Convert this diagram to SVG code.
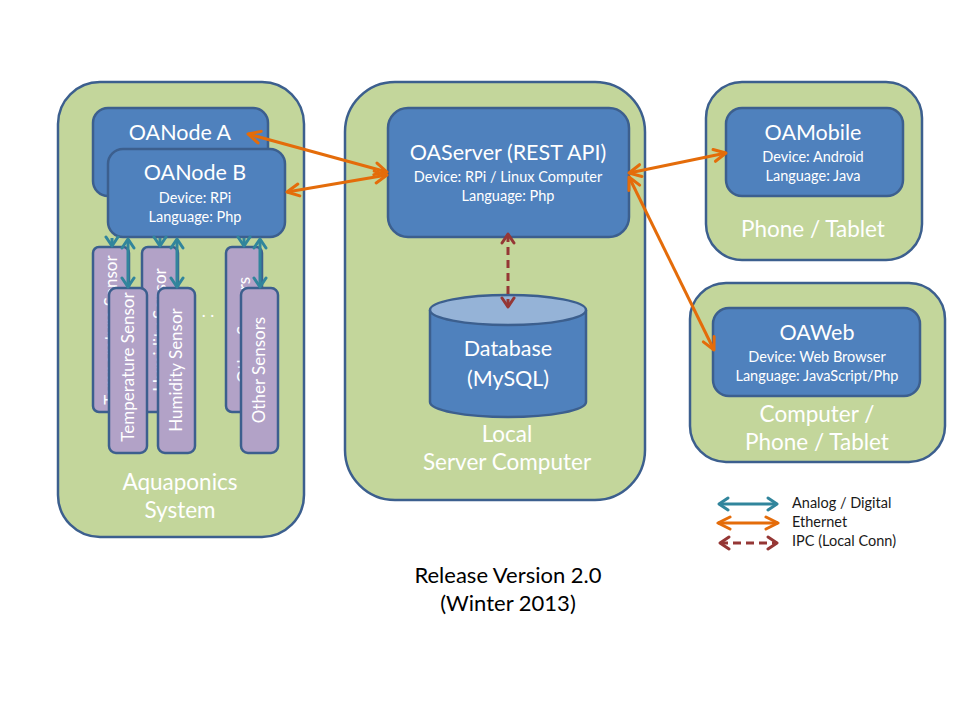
<svg xmlns="http://www.w3.org/2000/svg" width="960" height="720" viewBox="0 0 960 720">
  <style>
    text { font-family: Lato, "Open Sans", "Liberation Sans", sans-serif; }
    .zone { fill: #c3d69b; stroke: #3c5f8e; stroke-width: 2.5; }
    .node { fill: #4f81bd; stroke: #3c5f8e; stroke-width: 2.5; }
    .sensor { fill: #b2a2c7; stroke: #3c5f8e; stroke-width: 2.5; }
    .title { fill: #ffffff; font-size: 21.5px; text-anchor: middle; }
    .sub { fill: #ffffff; font-size: 14.5px; text-anchor: middle; }
    .zlabel { fill: #ffffff; font-size: 22.5px; text-anchor: middle; }
    .stext { fill: #ffffff; font-size: 17px; text-anchor: middle; }
    .eth { stroke: #e46c0a; stroke-width: 3; fill: none; }
    .sig { stroke: #31859c; stroke-width: 3; fill: none; }
    .ipc { stroke: #953735; stroke-width: 3; fill: none; stroke-dasharray: 8 5; }
    .legend { fill: #1a1a1a; font-size: 14.5px; }
    .caption { fill: #000000; font-size: 22px; text-anchor: middle; }
  </style>
  <defs>
    <marker id="headEth" viewBox="-14 -8 16 16" refX="0" refY="0" markerWidth="16" markerHeight="16" markerUnits="userSpaceOnUse" orient="auto-start-reverse">
      <path d="M-12,-6 L0,0 L-12,6" fill="none" stroke="#e46c0a" stroke-width="3" stroke-linecap="round" stroke-linejoin="round"/>
    </marker>
    <marker id="headSig" viewBox="-12 -8 14 16" refX="0" refY="0" markerWidth="14" markerHeight="16" markerUnits="userSpaceOnUse" orient="auto-start-reverse">
      <path d="M-9,-6 L0,0 L-9,6" fill="none" stroke="#31859c" stroke-width="3" stroke-linecap="round" stroke-linejoin="round"/>
    </marker>
    <marker id="headIpc" viewBox="-12 -8 14 16" refX="0" refY="0" markerWidth="14" markerHeight="16" markerUnits="userSpaceOnUse" orient="auto-start-reverse">
      <path d="M-9,-6 L0,0 L-9,6" fill="none" stroke="#953735" stroke-width="3" stroke-linecap="round" stroke-linejoin="round"/>
    </marker>
  </defs>

  <!-- deployment zones -->
  <g id="zone-aquaponics">
    <rect class="zone" x="58" y="82" width="246" height="455" rx="42"/>
    <text class="zlabel" x="180" y="490">Aquaponics</text>
    <text class="zlabel" x="180" y="518">System</text>
  </g>
  <g id="zone-server">
    <rect class="zone" x="345" y="82" width="300" height="418" rx="50"/>
    <text class="zlabel" x="507" y="442">Local</text>
    <text class="zlabel" x="507" y="470">Server Computer</text>
  </g>
  <g id="zone-mobile">
    <rect class="zone" x="706" y="82" width="216" height="178" rx="36"/>
    <text class="zlabel" x="813" y="237">Phone / Tablet</text>
  </g>
  <g id="zone-web">
    <rect class="zone" x="690" y="283" width="255" height="179" rx="36"/>
    <text class="zlabel" x="817" y="422">Computer /</text>
    <text class="zlabel" x="817" y="450">Phone / Tablet</text>
  </g>

  <!-- node A and its sensors (behind node B) -->
  <g id="oanode-a">
    <rect class="node" x="93" y="108" width="175" height="88" rx="15"/>
    <text class="title" x="180" y="140">OANode A</text>
  </g>
  <g id="sensors-a">
    <rect class="sensor" x="93" y="247" width="36" height="165" rx="6"/>
    <text class="stext" transform="translate(117 330) rotate(-90)">Temperature Sensor</text>
    <rect class="sensor" x="142" y="247" width="36" height="165" rx="6"/>
    <text class="stext" transform="translate(166 330) rotate(-90)">Humidity Sensor</text>
    <rect class="sensor" x="226" y="247" width="36" height="165" rx="6"/>
    <text class="stext" transform="translate(250 330) rotate(-90)">Other Sensors</text>
  </g>

  <!-- node B and its sensors -->
  <g id="oanode-b">
    <rect class="node" x="108" y="149" width="177" height="88" rx="15"/>
    <text class="title" x="195" y="180">OANode B</text>
    <text class="sub" x="195" y="203">Device: RPi</text>
    <text class="sub" x="195" y="222">Language: Php</text>
  </g>
  <g id="sensors-b">
    <rect class="sensor" x="109" y="288" width="38" height="165" rx="7"/>
    <text class="stext" transform="translate(134 367) rotate(-90)">Temperature Sensor</text>
    <rect class="sensor" x="158" y="288" width="37" height="165" rx="7"/>
    <text class="stext" transform="translate(182 370) rotate(-90)">Humidity Sensor</text>
    <rect class="sensor" x="241" y="288" width="37" height="165" rx="7"/>
    <text class="stext" transform="translate(265 370) rotate(-90)">Other Sensors</text>
    <text class="stext" x="208" y="317">. .</text>
  </g>

  <g id="oaserver">
    <rect class="node" x="388" y="108" width="241" height="129" rx="20"/>
    <text class="title" x="508" y="160">OAServer (REST API)</text>
    <text class="sub" x="508" y="182">Device: RPi / Linux Computer</text>
    <text class="sub" x="508" y="201">Language: Php</text>
  </g>

  <g id="database">
    <path class="node" d="M430,310 L430,402 A78,15 0 0 0 586,402 L586,310"/>
    <ellipse cx="508" cy="310" rx="78" ry="15" fill="#95b3d7" stroke="#3c5f8e" stroke-width="2.5"/>
    <text class="title" x="508" y="356">Database</text>
    <text class="title" x="508" y="386">(MySQL)</text>
  </g>

  <g id="oamobile">
    <rect class="node" x="726" y="108" width="177" height="88" rx="16"/>
    <text class="title" x="813" y="140">OAMobile</text>
    <text class="sub" x="813" y="162">Device: Android</text>
    <text class="sub" x="813" y="181">Language: Java</text>
  </g>

  <g id="oaweb">
    <rect class="node" x="713" y="308" width="207" height="88" rx="16"/>
    <text class="title" x="817" y="340">OAWeb</text>
    <text class="sub" x="817" y="362">Device: Web Browser</text>
    <text class="sub" x="817" y="381">Language: JavaScript/Php</text>
  </g>

  <!-- connectors -->
  <g id="connectors">
    <!-- node A to its sensors: only the lower heads show below node B -->
    <line class="sig" x1="112" y1="238" x2="112" y2="246" marker-end="url(#headSig)"/>
    <line class="sig" x1="160" y1="238" x2="160" y2="246" marker-end="url(#headSig)"/>
    <line class="sig" x1="244" y1="238" x2="244" y2="246" marker-end="url(#headSig)"/>
    <!-- node B to its sensors -->
    <line class="sig" x1="128" y1="239" x2="128" y2="287" marker-start="url(#headSig)" marker-end="url(#headSig)"/>
    <line class="sig" x1="177" y1="239" x2="177" y2="287" marker-start="url(#headSig)" marker-end="url(#headSig)"/>
    <line class="sig" x1="260" y1="239" x2="260" y2="287" marker-start="url(#headSig)" marker-end="url(#headSig)"/>
    <!-- ethernet links -->
    <line class="eth" x1="248" y1="134" x2="387" y2="172" marker-start="url(#headEth)" marker-end="url(#headEth)"/>
    <line class="eth" x1="287" y1="192" x2="387" y2="175" marker-start="url(#headEth)" marker-end="url(#headEth)"/>
    <line class="eth" x1="629" y1="173" x2="726" y2="153" marker-start="url(#headEth)" marker-end="url(#headEth)"/>
    <line class="eth" x1="629" y1="177" x2="714" y2="350" marker-start="url(#headEth)" marker-end="url(#headEth)"/>
    <!-- server to database -->
    <line class="ipc" x1="508" y1="234" x2="508" y2="307" marker-start="url(#headIpc)" marker-end="url(#headIpc)"/>
  </g>

  <g id="legend">
    <line class="sig" x1="719" y1="504" x2="777" y2="504" marker-start="url(#headSig)" marker-end="url(#headSig)"/>
    <line class="eth" x1="718" y1="523" x2="778" y2="523" marker-start="url(#headEth)" marker-end="url(#headEth)"/>
    <line class="ipc" x1="720" y1="543" x2="777" y2="543" marker-start="url(#headIpc)" marker-end="url(#headIpc)"/>
    <text class="legend" x="792" y="508">Analog / Digital</text>
    <text class="legend" x="792" y="527">Ethernet</text>
    <text class="legend" x="792" y="546">IPC (Local Conn)</text>
  </g>

  <g id="caption">
    <text class="caption" x="508" y="583">Release Version 2.0</text>
    <text class="caption" x="508" y="611">(Winter 2013)</text>
  </g>
</svg>
